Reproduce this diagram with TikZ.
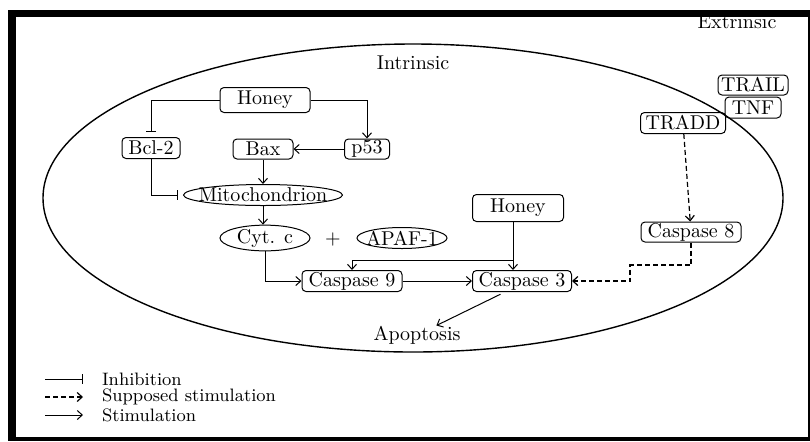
\documentclass[tikz,border=0pt]{standalone}
\usetikzlibrary{shapes.geometric, arrows.meta, positioning}
\tikzset{every node/.style={font=\fontsize{10}{12}\selectfont}, % Text size of all labels
gene/.style={ % Rounded boxes for the molecules
draw, line width=0.5pt, rounded corners=2pt,
inner sep=0pt, minimum height=10.5pt},
oval/.style={ % Ellipses for organelle and complexes
draw, ellipse, line width=0.5pt,
inner sep=0pt, minimum height=10.5pt},
cell/.style={draw, ellipse, line width=0.7pt, inner sep=0pt}, % The cell outline
key/.style={inner ysep=0pt, font=\fontsize{9}{11}\selectfont}, % Legend texts
>={Straight Barb[length=2.5pt, width=4.5pt]}, % Open arrow heads
stim/.style={->, line width=0.5pt}, % Stimulation
supposed/.style={->, line width=0.6pt, dash pattern=on 2.5pt off 1.5pt}, % Supposed stimulation
inhib/.style={-{Bar[width=5pt]}, line width=0.5pt}} % Inhibition

\begin{document}
\begin{tikzpicture}[x=0.5pt, y=-0.5pt]
    \useasboundingbox (0,0) rectangle (810,441);
    \fill (8,10) rectangle (810,17);
    \fill (8,10) rectangle (16,441);
    \fill (8,437) rectangle (810,441);
    \fill (808,10) rectangle (810,441);
    \node[cell, minimum width=370pt, minimum height=154pt] (cellwall) at (413,198) {};
    \node (intr) at (413,63) {Intrinsic};
    \node (extr) at (737,22) {Extrinsic};
    \node[gene, minimum width=45pt, minimum height=12.5pt] (honeyA) at (265,100) {Honey};
    \node[gene, minimum width=29pt] (bcl2) at (151,148) {Bcl-2};
    \node[gene, minimum width=30pt, minimum height=10pt] (bax) at (263,149) {Bax};
    \node[gene, minimum width=22.5pt, minimum height=10pt] (p53) at (367,149) {p53};
    \node[oval, inner xsep=-4pt, minimum width=76pt] (mito) at (263,195) {Mitochondrion};
    \node[oval, minimum width=45pt] (cytc) at (265,238) {Cyt. c};
    \node (plus) at (333,239) {+};
    \node[oval, inner xsep=-2pt, minimum width=45pt] (apaf) at (402,238) {APAF-1};
    \node[gene, minimum width=45.5pt, minimum height=13.5pt] (honeyB) at (518,208) {Honey};
    \node[gene, minimum width=50pt] (casp9) at (352,281) {Caspase 9};
    \node[gene, minimum width=49.5pt] (casp3) at (522,281) {Caspase 3};
    \node[inner sep=0pt] (apop) at (417,335) {Apoptosis};
    \node[gene, minimum width=50pt, minimum height=10pt] (casp8) at (691,232) {Caspase 8};
    \node[gene, minimum width=35pt, minimum height=10pt] (trail) at (753,85) {TRAIL};
    \node[gene, minimum width=28pt, below=0.5pt of trail] (tnf) {TNF};
    \node[gene, minimum width=42.5pt] (tradd) at (683,123) {TRADD};
    \coordinate (split) at (513,260);
    \coordinate (kink) at (630,265);
    \draw[inhib, shorten >=2.5pt] (honeyA.west) -| (bcl2.north);
    \draw[stim] (honeyA.east) -| (p53.north);
    \draw[stim] (p53) -- (bax);
    \draw[stim] (bax) -- (mito);
    \draw[inhib, shorten >=2.5pt] (bcl2.south) |- (mito.west);
    \draw[stim] (mito.south) -- (mito.south |- cytc.north);
    \draw[stim] (cytc.south) |- (casp9.west);
    \draw[stim] (split |- honeyB.south) -- (split |- casp3.north);
    \draw[stim] (split) -| (casp9.north);
    \draw[stim] (casp9) -- (casp3);
    \draw[stim, shorten <=2.5pt] ([xshift=-8.5pt]casp3.south) -- (apop);
    \draw[supposed] (tradd) -- (casp8);
    \draw[supposed] (casp8.south) |- (kink) |- (casp3.east);
    \coordinate (inhA) at (45,379);
    \coordinate (inhB) at (83,379);
    \coordinate (supA) at (45,397);
    \coordinate (supB) at (83,397);
    \coordinate (stiA) at (45,415);
    \coordinate (stiB) at (83,415);
    \draw[inhib] (inhA) -- (inhB);
    \draw[supposed] (supA) -- (supB);
    \draw[stim] (stiA) -- (stiB);
    \node[key, right=6pt of inhB] (inhT) {Inhibition};
    \node[key, right=6pt of supB] (supT) {Supposed stimulation};
    \node[key, right=6pt of stiB] (stiT) {Stimulation};
\end{tikzpicture}
\end{document}
